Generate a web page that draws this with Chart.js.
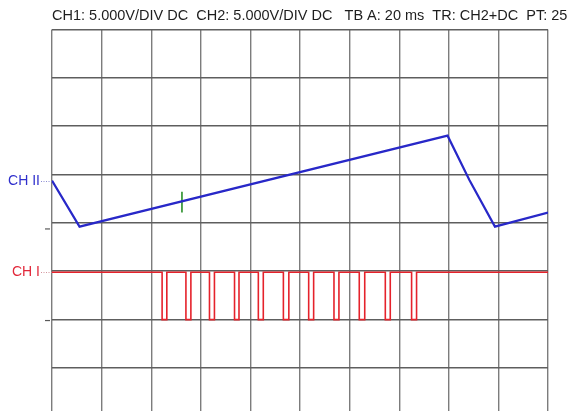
<!DOCTYPE html>
<html>
<head>
<meta charset="utf-8">
<script src="https://cdn.jsdelivr.net/npm/chart.js@4/dist/chart.umd.min.js"></script>
<style>
  html, body { margin: 0; padding: 0; background: #ffffff; }
  #wrap { width: 568px; height: 411px; }
</style>
</head>
<body>
<div id="wrap"><canvas id="scope" width="568" height="411"></canvas></div>
<script>
// Acquisition settings
const msPerDiv = 20;
const divisionsX = 10;
const voltsPerDiv = 5;
const headerText = "CH1: 5.000V/DIV DC  CH2: 5.000V/DIV DC   TB A: 20 ms  TR: CH2+DC  PT: 25";
const channelLabels = ["CH I", "CH II"];

// CH2: sawtooth corner points (time in ms, level in V)
const ch2Times = [0, 11.1, 159.5, 168.3, 178.6, 200];
const ch2Volts = [0, -4.76, 4.66, 0.07, -4.76, -3.31];

// CH1: idle-high pulse train, falling and rising edges in ms
const ch1PulseStarts = [44.4, 54.0, 63.5, 73.6, 83.2, 93.3, 103.5, 113.7, 123.9, 134.4, 145.0];
const ch1PulseEnds   = [46.3, 56.0, 65.5, 75.4, 85.2, 95.5, 105.5, 115.7, 126.1, 136.4, 147.0];
const ch1IdleVolts = 0;
const ch1PulseVolts = -4.9;

// Trigger point marker on CH2
const trigTimes = [52.4, 52.4];
const trigVolts = [-1.14, -3.31];

// Screen: 8 vertical divisions, lower part runs past the bottom edge
const screenTopDiv = 4;
const screenBottomDiv = -3.9;
const ch1OffsetDiv = -1.027;   // CH1 zero level relative to screen centre
const ch2OffsetDiv = 0.87;     // CH2 zero level relative to screen centre

function channelRange(offsetDiv) {
  return {
    min: (screenBottomDiv - offsetDiv) * voltsPerDiv,
    max: (screenTopDiv - offsetDiv) * voltsPerDiv
  };
}

// Build the CH1 step trace from its edge lists
const ch1Points = [{ x: 0, y: ch1IdleVolts }];
ch1PulseStarts.forEach((t0, i) => {
  const t1 = ch1PulseEnds[i];
  ch1Points.push({ x: t0, y: ch1IdleVolts }, { x: t0, y: ch1PulseVolts },
                 { x: t1, y: ch1PulseVolts }, { x: t1, y: ch1IdleVolts });
});
ch1Points.push({ x: msPerDiv * divisionsX, y: ch1IdleVolts });

const ch2Points = ch2Times.map((t, i) => ({ x: t, y: ch2Volts[i] }));
const trigPoints = trigTimes.map((t, i) => ({ x: t, y: trigVolts[i] }));

const headerFont = '14.5px "Liberation Sans", Arial, sans-serif';
const labelFont = '14px "Liberation Sans", Arial, sans-serif';

// Header line, channel tags with dotted leaders and one-division marks
const scopeOverlay = {
  id: 'scopeOverlay',
  afterDraw(chart) {
    const { ctx, chartArea } = chart;
    ctx.save();
    ctx.font = headerFont;
    ctx.textBaseline = 'middle';
    ctx.textAlign = 'left';
    ctx.fillStyle = '#1e1e1e';
    ctx.fillText(headerText, chartArea.left, 16);

    ctx.font = labelFont;
    const tags = [
      { scale: chart.scales.ch1, text: channelLabels[0], color: '#e2283a', lead: 'rgba(200,120,130,0.8)' },
      { scale: chart.scales.ch2, text: channelLabels[1], color: '#2f2fcc', lead: 'rgba(110,110,200,0.8)' }
    ];
    tags.forEach(tag => {
      const y0 = tag.scale.getPixelForValue(0);
      ctx.fillStyle = tag.color;
      ctx.textAlign = 'right';
      ctx.fillText(tag.text, 40, y0);
      ctx.strokeStyle = tag.lead;
      ctx.lineWidth = 1;
      ctx.setLineDash([1, 1.5]);
      ctx.beginPath();
      ctx.moveTo(41, Math.round(y0) + 0.5);
      ctx.lineTo(chartArea.left, Math.round(y0) + 0.5);
      ctx.stroke();
      ctx.setLineDash([]);
      const yd = tag.scale.getPixelForValue(-voltsPerDiv);
      ctx.strokeStyle = '#5a5a5a';
      ctx.lineWidth = 1.2;
      ctx.beginPath();
      ctx.moveTo(45, yd);
      ctx.lineTo(50, yd);
      ctx.stroke();
    });
    ctx.restore();
  }
};

const ch1Range = channelRange(ch1OffsetDiv);
const ch2Range = channelRange(ch2OffsetDiv);

new Chart(document.getElementById('scope'), {
  type: 'line',
  data: {
    datasets: [
      {
        label: 'CH1',
        data: ch1Points,
        yAxisID: 'ch1',
        borderColor: '#e5222b',
        borderWidth: 1.6,
        pointRadius: 0,
        tension: 0
      },
      {
        label: 'CH2',
        data: ch2Points,
        yAxisID: 'ch2',
        borderColor: '#2828c8',
        borderWidth: 2.2,
        pointRadius: 0,
        tension: 0
      },
      {
        label: 'Trigger',
        data: trigPoints,
        yAxisID: 'ch2',
        borderColor: '#3f9a3f',
        borderWidth: 1.8,
        pointRadius: 0
      }
    ]
  },
  options: {
    responsive: false,
    animation: false,
    events: [],
    layout: { padding: { left: 52, right: 20, top: 29.5, bottom: 0 } },
    plugins: { legend: { display: false }, tooltip: { enabled: false }, title: { display: false } },
    scales: {
      x: {
        type: 'linear',
        min: 0,
        max: msPerDiv * divisionsX,
        ticks: { display: false, stepSize: msPerDiv },
        grid: { color: '#7c7c7c', lineWidth: 1.4, drawTicks: false },
        border: { display: false }
      },
      screen: {
        type: 'linear',
        position: 'left',
        min: screenBottomDiv,
        max: screenTopDiv,
        afterBuildTicks(scale) {
          const ticks = [];
          for (let v = Math.ceil(screenBottomDiv); v <= screenTopDiv; v++) ticks.push({ value: v });
          scale.ticks = ticks;
        },
        ticks: { display: false },
        grid: { color: '#5e5e5e', lineWidth: 1.4, drawTicks: false },
        border: { display: false }
      },
      ch1: { type: 'linear', display: false, min: ch1Range.min, max: ch1Range.max },
      ch2: { type: 'linear', display: false, min: ch2Range.min, max: ch2Range.max }
    }
  },
  plugins: [scopeOverlay]
});
</script>
</body>
</html>
